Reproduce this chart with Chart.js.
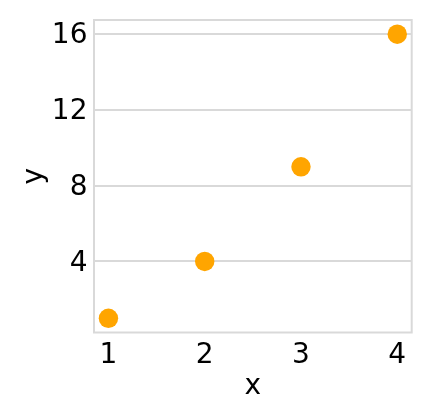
<!DOCTYPE html>
<html>
<head>
<meta charset="utf-8">
<script src="https://cdn.jsdelivr.net/npm/chart.js@4/dist/chart.umd.min.js"></script>
<style>
html,body{margin:0;padding:0;background:#fff;}
canvas{display:block;}
</style>
</head>
<body>
<canvas id="c" width="432" height="420"></canvas>
<script>
const xValues = [1, 2, 3, 4];
const yValues = [1, 4, 9, 16];
const xTicks = [1, 2, 3, 4];
const yTicks = [4, 8, 12, 16];
const xTitle = 'x';
const yTitle = 'y';
const pointColor = '#FFA500';
const gridColor = '#d9d9d9';

const points = xValues.map((x, i) => ({x: x, y: yValues[i]}));

const frame = {
  id: 'frame',
  afterDraw(chart) {
    const {ctx, chartArea: a} = chart;
    ctx.save();
    ctx.strokeStyle = gridColor;
    ctx.lineWidth = 2;
    ctx.strokeRect(a.left, a.top, a.right - a.left, a.bottom - a.top);
    ctx.restore();
  }
};

const font = {family: 'DejaVu Sans', size: 28};

new Chart(document.getElementById('c'), {
  type: 'scatter',
  data: {
    datasets: [{
      data: points,
      backgroundColor: pointColor,
      borderWidth: 0,
      pointRadius: 9.7,
      pointHoverRadius: 9.7
    }]
  },
  options: {
    responsive: false,
    animation: false,
    devicePixelRatio: 1,
    layout: {padding: {top: 20, right: 20.3, left: 0, bottom: 0}},
    plugins: {legend: {display: false}, tooltip: {enabled: false}},
    scales: {
      x: {
        type: 'linear',
        min: 0.85,
        max: 4.15,
        afterBuildTicks: s => { s.ticks = xTicks.map(v => ({value: v})); },
        afterFit: s => { s.height = 87.5; s.paddingLeft = 0; s.paddingRight = 0; },
        grid: {display: false, drawTicks: false},
        border: {display: false},
        ticks: {color: '#000', font: font, padding: 6},
        title: {display: true, text: xTitle, color: '#000', font: font, padding: {top: 0, bottom: 16}}
      },
      y: {
        type: 'linear',
        min: 0.25,
        max: 16.75,
        z: 1,
        afterBuildTicks: s => { s.ticks = yTicks.map(v => ({value: v})); },
        afterFit: s => { s.width = 94; s.paddingTop = 0; s.paddingBottom = 0; },
        grid: {color: gridColor, lineWidth: 2, drawTicks: false},
        border: {display: false},
        ticks: {color: '#000', font: font, padding: 6.5, labelOffset: 2},
        title: {display: true, text: yTitle, color: '#000', font: font, padding: {top: 18, bottom: 0}}
      }
    }
  },
  plugins: [frame]
});
</script>
</body>
</html>
